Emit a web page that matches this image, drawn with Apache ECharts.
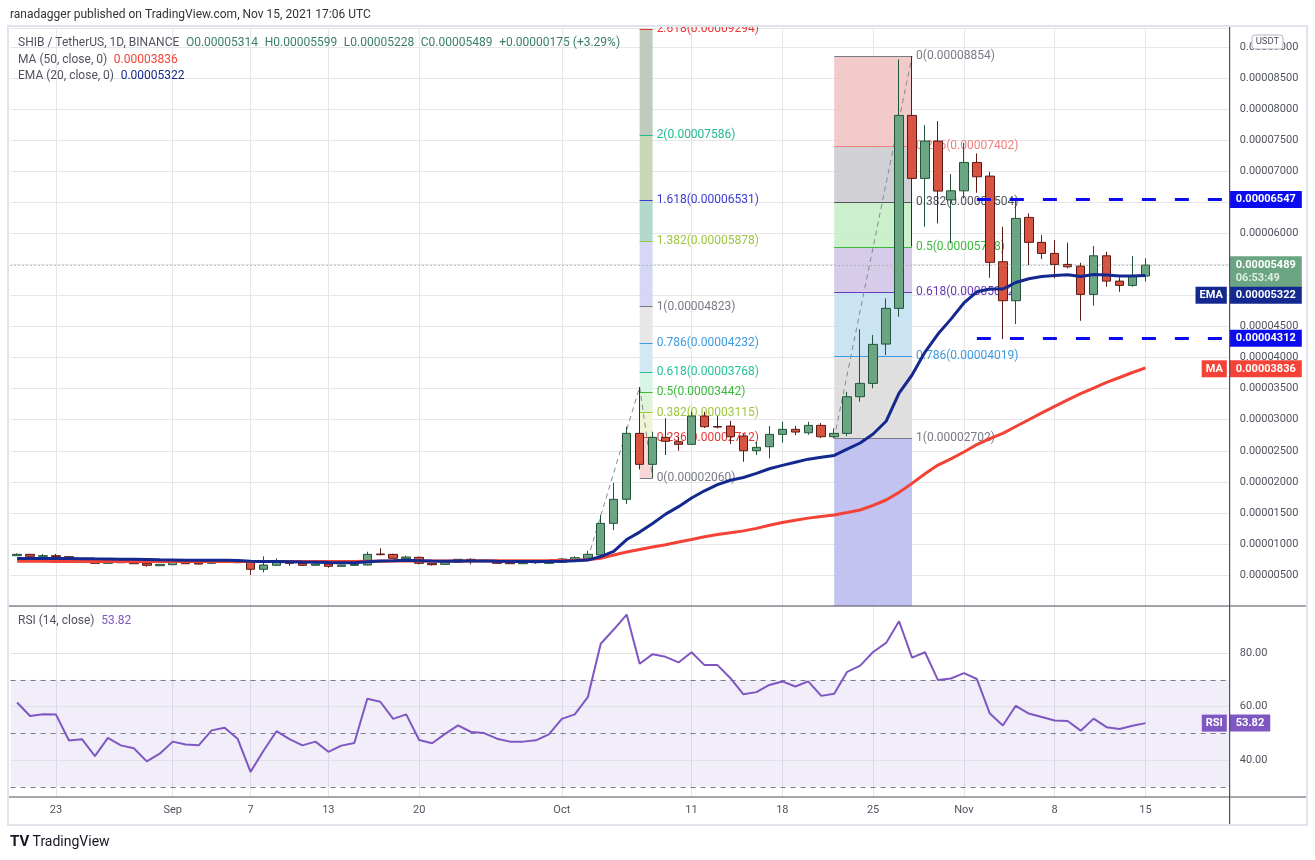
<!DOCTYPE html>
<html>
<head>
<meta charset="utf-8">
<title>SHIB / TetherUS, 1D, BINANCE</title>
<script src="https://cdn.jsdelivr.net/npm/echarts@6/dist/echarts.min.js"></script>
<style>
  html, body { margin: 0; padding: 0; background: #fff; }
  #chart { width: 1315px; height: 860px; }
</style>
</head>
<body>
<div id="chart"></div>
<script>
var FONT = 'Roboto, "Noto Sans", sans-serif';
var GRID_COLOR = '#e6e6ea';
var TEXT_COLOR = '#50535e';
var EMA_COLOR = '#14298f';
var MA_COLOR = '#f44336';
var RSI_COLOR = '#7e57c2';
var LEVEL_BLUE = '#0b0bf0';

// daily candles from 2021-08-20 to 2021-11-15, prices in 1e-8 USDT
var opens = [810, 832, 800, 810, 795, 736, 748, 687, 736, 703, 687, 649,
    665, 703, 692, 687, 725, 736, 703, 591, 655, 725, 687, 655,
    676, 639, 655, 660, 837, 832, 762, 784, 687, 671, 703, 752,
    730, 725, 703, 681, 697, 687, 703, 746, 768, 821, 1331, 1718,
    2780, 2281, 2716, 2645, 2603, 3059, 2890, 2898, 2737, 2500, 2565, 2764,
    2845, 2790, 2909, 2726, 2780, 3370, 3585, 4218, 4793, 7900, 6886, 7487,
    6540, 6686, 7143, 6923, 5544, 4916, 6258, 5856, 5678, 5501, 5474, 5018,
    5640, 5232, 5163, 5314];
var closes = [832, 800, 810, 795, 736, 752, 687, 741, 697, 681, 655, 671,
    703, 681, 676, 736, 741, 697, 591, 660, 720, 687, 655, 676,
    639, 660, 671, 832, 827, 768, 789, 687, 665, 703, 752, 720,
    714, 687, 681, 697, 703, 714, 757, 778, 832, 1331, 1718, 2780,
    2281, 2716, 2652, 2603, 3059, 2887, 2882, 2726, 2500, 2555, 2764, 2845,
    2801, 2909, 2726, 2780, 3370, 3585, 4213, 4793, 7900, 6886, 7487, 6682,
    6686, 7143, 6912, 5534, 4916, 6242, 5856, 5678, 5501, 5463, 5018, 5640,
    5232, 5163, 5314, 5489];
var lows = [805, 795, 790, 790, 730, 728, 681, 682, 692, 676, 633, 644,
    660, 676, 668, 682, 720, 692, 499, 542, 650, 649, 650, 650,
    617, 635, 650, 655, 816, 760, 740, 671, 650, 665, 698, 671,
    705, 680, 676, 676, 676, 682, 698, 741, 763, 789, 1224, 1642,
    2200, 2060, 2431, 2500, 2592, 2866, 2861, 2608, 2323, 2431, 2378, 2629,
    2753, 2758, 2705, 2702, 2737, 3289, 3505, 4041, 4658, 5790, 6107, 6161,
    5839, 6564, 6654, 5286, 4299, 4540, 5490, 5587, 5276, 5437, 4593, 4835,
    5141, 5060, 5141, 5228];
var highs = [848, 840, 837, 838, 800, 768, 757, 745, 745, 710, 690, 676,
    708, 712, 697, 752, 748, 752, 705, 800, 768, 735, 692, 685,
    682, 665, 676, 874, 929, 842, 810, 795, 692, 725, 757, 768,
    735, 730, 708, 708, 708, 720, 773, 800, 890, 1465, 1985, 2887,
    3526, 2806, 3022, 2726, 3128, 3128, 3059, 2983, 2769, 2645, 2898, 2967,
    2898, 2967, 2946, 2861, 3450, 4455, 4363, 4954, 8802, 8854, 7744, 7808,
    6955, 7459, 7288, 6990, 6107, 6548, 6322, 5973, 5893, 5849, 5527, 5796,
    5704, 5292, 5635, 5599];

// indicator values
var ema20 = [765, 766, 766, 766, 764, 762, 759, 757, 754, 751, 747, 743,
    740, 737, 735, 735, 735, 731, 720, 715, 715, 713, 709, 706,
    701, 698, 697, 711, 724, 729, 735, 730, 724, 722, 725, 725,
    724, 720, 717, 716, 715, 716, 720, 728, 740, 795, 880, 1070,
    1190, 1330, 1480, 1600, 1740, 1855, 1955, 2025, 2070, 2135, 2210, 2265,
    2315, 2365, 2395, 2425, 2525, 2625, 2770, 2975, 3430, 3720, 4090, 4380,
    4620, 4880, 5060, 5105, 5105, 5210, 5270, 5305, 5322, 5335, 5307, 5338,
    5329, 5313, 5313, 5322];
var ma50 = [720, 719, 719, 718, 718, 717, 717, 716, 716, 716, 715, 715,
    715, 715, 715, 716, 716, 716, 715, 715, 715, 716, 716, 716,
    716, 717, 718, 720, 722, 723, 724, 724, 724, 725, 726, 726,
    727, 727, 728, 729, 730, 731, 733, 737, 745, 768, 820, 870,
    910, 950, 985, 1030, 1070, 1115, 1150, 1180, 1210, 1250, 1300, 1345,
    1380, 1415, 1440, 1465, 1505, 1546, 1620, 1707, 1830, 1975, 2130, 2270,
    2370, 2480, 2600, 2695, 2780, 2890, 3000, 3110, 3215, 3320, 3420, 3510,
    3600, 3680, 3760, 3836];
var rsi14 = [61.5, 56.5, 57.1, 57.0, 47.3, 47.8, 41.5, 48.3, 45.5, 44.4, 39.5, 42.4,
    46.9, 45.8, 45.5, 51.1, 52.1, 48.0, 35.6, 43.5, 50.8, 47.8, 45.5, 46.9,
    43.1, 45.4, 46.4, 62.9, 61.8, 55.4, 57.1, 47.5, 46.3, 49.8, 53.0, 50.5,
    50.1, 48.0, 46.9, 46.9, 47.4, 49.6, 55.4, 57.1, 63.5, 83.5, 88.8, 94.4,
    76.0, 79.6, 78.6, 76.5, 80.3, 75.5, 75.5, 70.6, 64.6, 65.4, 68.1, 69.4,
    67.5, 69.4, 64.0, 64.8, 73.0, 75.3, 80.4, 83.8, 91.9, 78.3, 80.3, 69.9,
    70.5, 72.5, 70.3, 57.4, 52.9, 60.3, 57.4, 56.1, 54.8, 54.6, 51.0, 55.5,
    52.3, 51.6, 52.8, 53.82];

var tickDays = ['2021-08-23', '2021-09-01', '2021-09-07', '2021-09-13', '2021-09-20', '2021-10-01',
    '2021-10-11', '2021-10-18', '2021-10-25', '2021-11-01', '2021-11-08', '2021-11-15'];
var tickLabels = ['23', 'Sep', '7', '13', '20', 'Oct', '11', '18', '25', 'Nov', '8', '15'];

// trend based fib extension (Oct 3 -> Oct 7 -> Oct 8)
var fib1Levels = [0, 0.236, 0.382, 0.5, 0.618, 0.786, 1, 1.382, 1.618, 2, 2.618];
var fib1Prices = [2060, 2712, 3115, 3442, 3768, 4232, 4823, 5878, 6531, 7586, 9294];
var fib1Colors = ['#787b86', '#e53935', '#9cc63c', '#3cb93c', '#26c29b', '#3d9be0',
    '#787b86', '#9cc63c', '#3a3ad2', '#22b98e', '#e53935'];
var fib1Fills = ['#f5d2d2', '#eef4d4', '#dcf2d6', '#d4f4e6', '#cee6f4', '#e4e4e4',
    '#d1d3f3', '#a9d5c6', '#c2d3ae', '#b9c5b7'];
var fib1Days = ['2021-10-07', '2021-10-08'];
var fib1Trend = [['2021-10-03', 763], ['2021-10-07', 3526], ['2021-10-08', 2060]];

// fib retracement (Oct 22 low -> Oct 28 high)
var fib2Levels = [0, 0.236, 0.382, 0.5, 0.618, 0.786, 1, 1.618];
var fib2Prices = [8854, 7402, 6504, 5778, 5052, 4019, 2702, -1100];
var fib2Colors = ['#787b86', '#ef7f7f', '#50535e', '#3cb93c', '#673ab7', '#3d9be0', '#787b86', '#787b86'];
var fib2Fills = ['#f2c4c4', '#cccbd0', '#c6eec6', '#d2c5e6', '#c4e1f3', '#dcdcdc', '#bdbdef'];
var fib2Days = ['2021-10-22', '2021-10-28'];
var fib2Trend = [['2021-10-22', 2702], ['2021-10-28', 8854]];

// horizontal levels drawn by the author
var levelPrices = [6547, 4312];
var levelDays = ['2021-11-02', '2021-11-21'];

var lastPrice = 5489;
var countdown = '06:53:49';
var rsiDashed = [70, 50, 30];
var rsiGrid = [40, 60, 80];

var startDay = Date.UTC(2021, 7, 20);
var days = [];
for (var d = 0; d < 94; d++) {
    days.push(new Date(startDay + d * 86400000).toISOString().slice(0, 10));
}

var priceText = function (v) {
    return (v / 1e8).toFixed(8);
};
var isTick = function (index, value) {
    return tickDays.indexOf(value) >= 0;
};

var candles = opens.map(function (o, i) {
    return [o, closes[i], lows[i], highs[i]];
});

var fibMarks = function (levels, prices, colors, fills, range) {
    var lines = [], zones = [];
    for (var k = 0; k < levels.length; k++) {
        if (prices[k] >= 0) {
            lines.push([{
                coord: [range[0], prices[k]],
                lineStyle: {color: colors[k], width: 1, type: 'solid'},
                label: {
                    show: true, position: 'end', distance: 4,
                    formatter: levels[k] + '(' + priceText(prices[k]) + ')',
                    color: colors[k], fontSize: 12, fontFamily: FONT
                }
            }, {coord: [range[1], prices[k]]}]);
        }
        if (k < fills.length) {
            zones.push([{coord: [range[0], prices[k]], itemStyle: {color: fills[k], opacity: 0.9}},
                {coord: [range[1], prices[k + 1]]}]);
        }
    }
    return {lines: lines, zones: zones};
};
var trendSegments = function (points) {
    var segs = [];
    for (var i = 0; i < points.length - 1; i++) {
        segs.push([{coord: points[i], lineStyle: {color: '#868993', width: 1, type: [5, 4]}},
            {coord: points[i + 1]}]);
    }
    return segs;
};
var badge = function (text, bg, dy, dist) {
    return {
        show: true, position: 'end', distance: dist || 0, offset: [0, dy || 0],
        formatter: text, color: '#fff', backgroundColor: bg, padding: [2, 6, 2, 6],
        fontSize: 11, fontWeight: 'bold', fontFamily: FONT, lineHeight: 13
    };
};
var tag = function (text, bg, dy) {
    return {
        show: true, position: 'insideEnd', distance: 3, offset: [0, dy || 0],
        formatter: text, color: '#fff', backgroundColor: bg, padding: [2, 4, 2, 4],
        fontSize: 11, fontWeight: 'bold', fontFamily: FONT, lineHeight: 13
    };
};

var fib1 = fibMarks(fib1Levels, fib1Prices, fib1Colors, fib1Fills, fib1Days);
var fib2 = fibMarks(fib2Levels, fib2Prices, fib2Colors, fib2Fills, fib2Days);

var emaLast = ema20[ema20.length - 1];
var maLast = ma50[ma50.length - 1];
var rsiLast = rsi14[rsi14.length - 1];
// badge-only lines: keep the line invisible but its label visible
var hidden = {color: 'rgba(0,0,0,0)', width: 1, type: 'solid'};

var tagLines = [
    {
        yAxis: lastPrice,
        lineStyle: {color: '#6ba583', type: [1, 3], width: 1},
        label: {
            show: true, position: 'end', distance: 0, offset: [0, 7],
            formatter: '{p|' + priceText(lastPrice) + '}\n{t|' + countdown + '}',
            backgroundColor: '#6ba583', padding: [3, 6, 3, 6],
            rich: {
                p: {color: '#fff', fontSize: 11, fontWeight: 'bold', fontFamily: FONT, lineHeight: 13},
                t: {color: '#dcefe3', fontSize: 11, fontWeight: 'bold', fontFamily: FONT, lineHeight: 13}
            }
        }
    },
    {yAxis: emaLast, lineStyle: hidden, label: badge(priceText(emaLast), EMA_COLOR, 19.7)},
    {yAxis: emaLast, lineStyle: hidden, label: tag('EMA', EMA_COLOR, 19.7)},
    {yAxis: maLast, lineStyle: hidden, label: badge(priceText(maLast), MA_COLOR, 1)},
    {yAxis: maLast, lineStyle: hidden, label: tag('MA', MA_COLOR, 1)}
];
levelPrices.forEach(function (p) {
    tagLines.push([{
        coord: [levelDays[0], p],
        lineStyle: {color: LEVEL_BLUE, width: 3, type: [14, 19]},
        label: badge(priceText(p), LEVEL_BLUE, 0, 6.5)
    }, {coord: [levelDays[1], p]}]);
});

var chart = echarts.init(document.getElementById('chart'));

var option = {
    animation: false,
    backgroundColor: '#fff',
    grid: [
        {left: 10.6, right: 85.2, top: 28.5, height: 577.5, outerBoundsMode: 'none'},
        {left: 10.6, right: 85.2, top: 606, height: 191, outerBoundsMode: 'none'}
    ],
    xAxis: [
        {
            type: 'category', gridIndex: 0, data: days, boundaryGap: true,
            axisLine: {show: false}, axisTick: {show: false}, axisLabel: {show: false},
            splitLine: {show: true, interval: isTick, alignWithLabel: true, lineStyle: {color: GRID_COLOR}}
        },
        {
            type: 'category', gridIndex: 1, data: days, boundaryGap: true,
            axisLine: {show: false}, axisTick: {show: false},
            axisLabel: {
                show: true, interval: isTick, margin: 8, fontSize: 11, color: TEXT_COLOR, fontFamily: FONT,
                formatter: function (value) {
                    return tickLabels[tickDays.indexOf(value)];
                }
            },
            splitLine: {show: true, interval: isTick, alignWithLabel: true, lineStyle: {color: GRID_COLOR}}
        }
    ],
    yAxis: [
        {
            type: 'value', gridIndex: 0, position: 'right', min: 0, max: 9300, interval: 500,
            axisLine: {show: false}, axisTick: {show: false},
            splitLine: {lineStyle: {color: GRID_COLOR}},
            axisLabel: {
                margin: 10, fontSize: 11, color: TEXT_COLOR, fontFamily: FONT,
                showMinLabel: false, showMaxLabel: false, formatter: priceText
            }
        },
        {
            type: 'value', gridIndex: 1, position: 'right', min: 26.2, max: 97.6,
            axisLine: {show: false}, axisTick: {show: false}, splitLine: {show: false},
            axisLabel: {
                customValues: rsiGrid, margin: 10, fontSize: 11, color: TEXT_COLOR, fontFamily: FONT,
                formatter: function (v) {
                    return v.toFixed(2);
                }
            }
        }
    ],
    series: [
        {
            name: 'fib', type: 'line', xAxisIndex: 0, yAxisIndex: 0, data: [], z: 1, clip: false, silent: true,
            markArea: {silent: true, z: 1, data: fib1.zones.concat(fib2.zones)},
            markLine: {
                silent: true, z: 1.5, symbol: ['none', 'none'], label: {show: false},
                data: fib1.lines.concat(fib2.lines, trendSegments(fib1Trend), trendSegments(fib2Trend))
            }
        },
        {
            name: 'SHIB / TetherUS', type: 'candlestick', xAxisIndex: 0, yAxisIndex: 0,
            data: candles, barWidth: 9, z: 2,
            itemStyle: {
                color: '#6ba583', color0: '#d75442',
                borderColor: '#225437', borderColor0: '#5b1a13', borderWidth: 1
            }
        },
        {
            name: 'MA (50, close, 0)', type: 'line', xAxisIndex: 0, yAxisIndex: 0, data: ma50, z: 3,
            symbol: 'none', silent: true, lineStyle: {color: MA_COLOR, width: 3}
        },
        {
            name: 'EMA (20, close, 0)', type: 'line', xAxisIndex: 0, yAxisIndex: 0, data: ema20, z: 3,
            symbol: 'none', silent: true, lineStyle: {color: EMA_COLOR, width: 3}
        },
        {
            name: 'tags', type: 'line', xAxisIndex: 0, yAxisIndex: 0, data: [], z: 10, clip: false, silent: true,
            markLine: {silent: true, z: 10, symbol: ['none', 'none'], label: {show: false}, data: tagLines}
        },
        {
            name: 'rsi levels', type: 'line', xAxisIndex: 1, yAxisIndex: 1, data: [], z: 1, silent: true,
            markArea: {silent: true, z: 0.5, itemStyle: {color: 'rgba(126, 87, 194, 0.1)'}, data: [[{yAxis: 30}, {yAxis: 70}]]},
            markLine: {
                silent: true, z: 1, symbol: ['none', 'none'], label: {show: false},
                data: rsiGrid.map(function (v) {
                    return {yAxis: v, lineStyle: {color: '#e0e0e5', width: 1, type: 'solid'}};
                }).concat(rsiDashed.map(function (v) {
                    return {yAxis: v, lineStyle: {color: '#787b86', width: 1, type: [5, 5]}};
                }))
            }
        },
        {
            name: 'RSI (14, close)', type: 'line', xAxisIndex: 1, yAxisIndex: 1, data: rsi14, z: 3,
            symbol: 'none', silent: true, clip: false, lineStyle: {color: RSI_COLOR, width: 2},
            markLine: {
                silent: true, z: 10, symbol: ['none', 'none'], label: {show: false},
                data: [
                    {yAxis: rsiLast, lineStyle: hidden, label: badge(rsiLast.toFixed(2), RSI_COLOR, 0)},
                    {yAxis: rsiLast, lineStyle: hidden, label: tag('RSI', RSI_COLOR, 0)}
                ]
            }
        }
    ],
    graphic: [
        {type: 'rect', z: 60, shape: {x: 0, y: 0, width: 1315, height: 25}, style: {fill: '#fff'}},
        {type: 'rect', z: 59, shape: {x: 8, y: 26, width: 1299, height: 799},
            style: {fill: 'none', stroke: '#e0e3eb', lineWidth: 2}},
        {type: 'line', z: 58, shape: {x1: 8, y1: 606, x2: 1307, y2: 606}, style: {stroke: '#50535e', lineWidth: 1.2}},
        {type: 'line', z: 58, shape: {x1: 8, y1: 797, x2: 1307, y2: 797}, style: {stroke: '#50535e', lineWidth: 1.2}},
        {type: 'line', z: 58, shape: {x1: 1229.6, y1: 26, x2: 1229.6, y2: 825}, style: {stroke: '#50535e', lineWidth: 1.2}},
        {type: 'text', z: 61, x: 10, y: 15, style: {
            text: 'ranadagger published on TradingView.com, Nov 15, 2021 17:06 UTC',
            fill: '#333', fontSize: 12, fontFamily: FONT, verticalAlign: 'middle'}},
        {type: 'text', z: 61, x: 18, y: 42.5, style: {
            text: '{n|SHIB / TetherUS, 1D, BINANCE}  {v|O0.00005314}  {v|H0.00005599}  {v|L0.00005228}  {v|C0.00005489}  {v|+0.00000175 (+3.29%)}',
            verticalAlign: 'middle',
            rich: {
                n: {fill: TEXT_COLOR, fontSize: 12, fontFamily: FONT},
                v: {fill: '#3a7f62', fontSize: 12, fontFamily: FONT}
            }}},
        {type: 'text', z: 61, x: 18, y: 59.5, style: {
            text: '{n|MA (50, close, 0)}  {v|' + priceText(maLast) + '}',
            verticalAlign: 'middle',
            rich: {
                n: {fill: TEXT_COLOR, fontSize: 12, fontFamily: FONT},
                v: {fill: MA_COLOR, fontSize: 12, fontFamily: FONT}
            }}},
        {type: 'text', z: 61, x: 18, y: 75.5, style: {
            text: '{n|EMA (20, close, 0)}  {v|' + priceText(emaLast) + '}',
            verticalAlign: 'middle',
            rich: {
                n: {fill: TEXT_COLOR, fontSize: 12, fontFamily: FONT},
                v: {fill: EMA_COLOR, fontSize: 12, fontFamily: FONT}
            }}},
        {type: 'text', z: 61, x: 18, y: 621, style: {
            text: '{n|RSI (14, close)}  {v|' + rsiLast.toFixed(2) + '}',
            verticalAlign: 'middle',
            rich: {
                n: {fill: TEXT_COLOR, fontSize: 12, fontFamily: FONT},
                v: {fill: RSI_COLOR, fontSize: 12, fontFamily: FONT}
            }}},
        {type: 'rect', z: 61, shape: {x: 1252, y: 35, width: 31, height: 14, r: 3},
            style: {fill: '#fff', stroke: '#b2b5be', lineWidth: 1}},
        {type: 'text', z: 62, x: 1267.5, y: 42, style: {
            text: 'USDT', fill: TEXT_COLOR, fontSize: 9.5, fontFamily: FONT, align: 'center', verticalAlign: 'middle'}},
        {type: 'text', z: 61, x: 10, y: 842, style: {
            text: '{l|TV} {n|TradingView}',
            verticalAlign: 'middle',
            rich: {
                l: {fill: '#131722', fontSize: 15, fontWeight: 'bold', fontFamily: FONT},
                n: {fill: '#131722', fontSize: 14, fontFamily: FONT}
            }}}
    ]
};

chart.setOption(option);
</script>
</body>
</html>
